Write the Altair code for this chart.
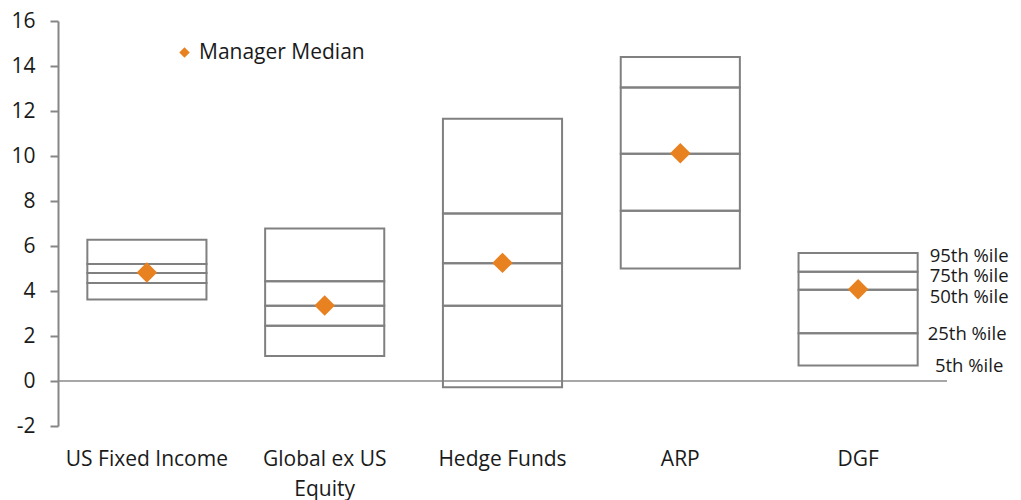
import altair as alt
import pandas as pd

categories = ["US Fixed Income", "Global ex US Equity", "Hedge Funds", "ARP", "DGF"]
p5 = [3.62, 1.11, -0.28, 5.00, 0.69]
p25 = [4.36, 2.46, 3.35, 7.57, 2.12]
p50 = [4.80, 3.35, 5.23, 10.10, 4.06]
p75 = [5.20, 4.43, 7.45, 13.04, 4.86]
p95 = [6.28, 6.78, 11.66, 14.40, 5.69]
manager_median = [4.82, 3.36, 5.25, 10.12, 4.08]
pct_labels = ["5th %ile", "25th %ile", "50th %ile", "75th %ile", "95th %ile"]
y_ticks = [-2, 0, 2, 4, 6, 8, 10, 12, 14, 16]

FONT = "Open Sans"
GREY = "#808080"
ORANGE = "#E8811F"
TXT = "#1a1a1a"

# segments between consecutive percentiles
seg_rows = []
for i, c in enumerate(categories):
    q = [p5[i], p25[i], p50[i], p75[i], p95[i]]
    for j in range(4):
        seg_rows.append({"cat": c, "lo": q[j], "hi": q[j + 1]})
seg_df = pd.DataFrame(seg_rows)

med_df = pd.DataFrame({"cat": categories, "val": manager_median, "series": "Manager Median"})

xscale = alt.Scale(domain=categories, paddingInner=0.33, paddingOuter=0.165)
yscale = alt.Scale(domain=[-2, 16], nice=False, zero=False)

x_enc = alt.X(
    "cat:N", scale=xscale, sort=categories, title=None,
    axis=alt.Axis(
        domain=False, ticks=False, tickSize=0, labelAngle=0, labelPadding=22,
        labelFontSize=21, labelFont=FONT, labelColor=TXT, labelLineHeight=30,
        labelExpr="datum.label == 'Global ex US Equity' ? ['Global ex US', 'Equity'] : datum.label",
    ),
)
y_axis = alt.Axis(
    values=y_ticks, grid=False, domainColor="#868686", domainWidth=2,
    tickColor="#868686", tickWidth=2, tickSize=8, labelPadding=15,
    labelFontSize=21, labelFont=FONT, labelColor=TXT, title=None,
    labelExpr="replace(datum.label, '\u2212', '-')",
)

boxes = alt.Chart(seg_df).mark_bar(
    fill=None, fillOpacity=0, stroke=GREY, strokeWidth=2
).encode(
    x=x_enc,
    y=alt.Y("lo:Q", scale=yscale, axis=y_axis),
    y2="hi:Q",
)

zero = alt.Chart(pd.DataFrame({"z": [0]})).mark_rule(color="#8a8a8a", strokeWidth=1.5).encode(
    y=alt.Y("z:Q", scale=yscale)
)

meds = alt.Chart(med_df).mark_point(
    shape="diamond", filled=True, size=420, opacity=1
).encode(
    x=alt.X("cat:N", scale=xscale, sort=categories),
    y=alt.Y("val:Q", scale=yscale),
    color=alt.Color(
        "series:N", scale=alt.Scale(range=[ORANGE]),
        legend=alt.Legend(
            title=None, orient="none", legendX=116, legendY=21,
            symbolType="diamond", symbolSize=110, labelFontSize=21,
            labelFont=FONT, labelColor=TXT, labelOffset=4, labelLimit=400,
        ),
    ),
)

# percentile annotations beside the last box
dgf = [p5[-1], p25[-1], p50[-1], p75[-1], p95[-1]]
label_dy = [1, 1, 7, 4, 3]
label_dx = [111, 109, 111, 111, 111]
texts = []
for lbl, v, dy, dx in zip(pct_labels, dgf, label_dy, label_dx):
    t = alt.Chart(pd.DataFrame({"cat": ["DGF"], "v": [v], "t": [lbl]})).mark_text(
        font=FONT, fontSize=18.5, color=TXT, align="center", baseline="middle", dx=dx, dy=dy
    ).encode(
        x=alt.X("cat:N", scale=xscale, sort=categories),
        y=alt.Y("v:Q", scale=yscale),
        text="t:N",
    )
    texts.append(t)

chart = alt.layer(zero, boxes, meds, *texts).properties(
    width=889, height=405,
    autosize=alt.AutoSizeParams(type="none"),
    padding={"left": 50, "top": 13, "right": 66, "bottom": 85},
).configure_view(stroke=None)

chart.save("out.html", embed_options={"renderer": "svg", "actions": False})
